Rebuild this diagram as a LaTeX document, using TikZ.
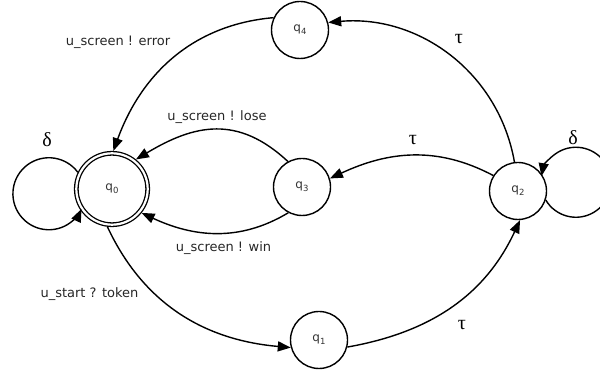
\documentclass[tikz,border=0pt]{standalone}
\usepackage{fontspec}
\setmainfont{DejaVu Sans}
\newfontfamily\grk{Liberation Serif}
\usetikzlibrary{arrows.meta}
\newcommand{\qs}[1]{q\raisebox{-0.45ex}{\fontsize{8.5}{9}\selectfont #1}}
\tikzset{
  state/.style={circle, draw, line width=1.4pt, minimum size=57pt, inner sep=0pt,
    font=\fontsize{12}{14}\selectfont, text=black!80},
  accstate/.style={state, double, double distance=2.2pt, line width=1.3pt, minimum size=71.4pt, outer sep=2.3pt},
  trans/.style={line width=1.4pt, -{Triangle[length=13pt,width=10pt]}},
  lbl/.style={font=\fontsize{13}{15}\selectfont, inner sep=0pt, text=black!85},
  glbl/.style={font=\grk\fontsize{20}{22}\selectfont, inner sep=0pt}
}
\begin{document}
\begin{tikzpicture}[x=1pt,y=1pt]
\clip (0,0) rectangle (600,374);
\node[accstate] (q0) at (112,185) {\qs{0}};
\node[state] (q1) at (319,34) {\qs{1}};
\node[state] (q2) at (518,183) {\qs{2}};
\node[state] (q3) at (302,187) {\qs{3}};
\node[state] (q4) at (300,344) {\qs{4}};

% self loops
\draw[trans] (q0.154) arc[start angle=36.5, end angle=335, radius=36];
\draw[trans] (q2.-18) arc[start angle=210.5, end angle=530, radius=35];

% transitions
\draw[trans] (q2.97) to[out=100,in=5] (q4.15);
\draw[trans] (q4.155) to[out=185,in=70] (q0.88);
\draw[trans] (q2.148) to[out=152,in=25] (q3.17);
\draw[trans] (q3.119) to[out=137,in=31,looseness=1.15] (q0.51);
\draw[trans] (q3.242) to[out=211,in=335] (q0.321);
\draw[trans] (q0.263) to[out=295,in=175] (q1.195);
\draw[trans] (q1.346) to[out=10,in=245] (q2.274);

% labels
\node[lbl] (lerr) at (118,332) {u\_screen ! error};
\node[lbl] (llose) at (217,256.5) {u\_screen ! lose};
\node[lbl] (lwin) at (223.5,126) {u\_screen ! win};
\node[lbl] (lstart) at (89.5,80) {u\_start ? token};
\node[glbl] (t1) at (459,335) {τ};
\node[glbl] (t2) at (413,234) {τ};
\node[glbl] (t3) at (462,49) {τ};
\node[glbl] (d0) at (47,234) {δ};
\node[glbl] (d2) at (573,236) {δ};
\end{tikzpicture}
\end{document}
